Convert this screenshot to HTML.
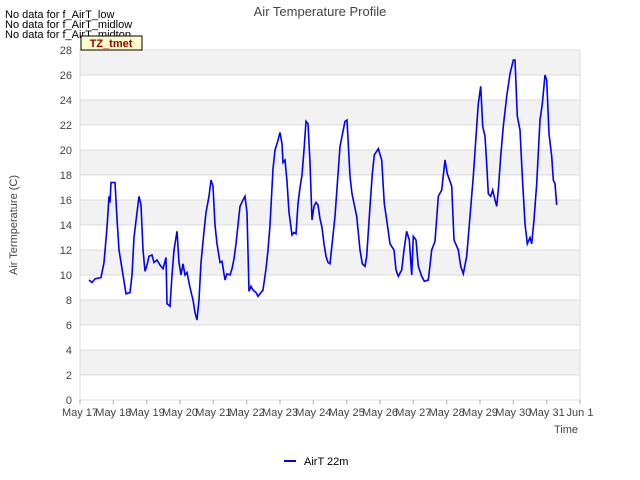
<!DOCTYPE html>
<html><head><meta charset="utf-8"><style>
body{margin:0;background:#fff;font-family:"Liberation Sans",sans-serif}
svg{display:block}
</style></head><body>
<svg width="640" height="480" viewBox="0 0 640 480" xmlns="http://www.w3.org/2000/svg" font-family="Liberation Sans, sans-serif">
<g id="bands"></g>
<g id="grid"></g>
<rect x="80" y="50" width="500" height="350" fill="none" stroke="#ddd"/>
<g id="yticks"></g>
<g id="xticks"></g>
<path id="line" fill="none" stroke="#0000ff" stroke-width="1.6"/>
<text x="320" y="16" text-anchor="middle" font-size="13" fill="#444">Air Temperature Profile</text>
<text transform="translate(17,225) rotate(-90)" text-anchor="middle" font-size="11" fill="#444">Air Termperature (C)</text>
<text x="578" y="433" text-anchor="end" font-size="11" fill="#444">Time</text>
<text x="5" y="18" font-size="11" fill="#000">No data for f_AirT_low</text>
<text x="5" y="28" font-size="11" fill="#000">No data for f_AirT_midlow</text>
<text x="5" y="38" font-size="11" fill="#000">No data for f_AirT_midtop</text>
<rect x="81" y="36" width="61" height="14" fill="#ffffcc" stroke="#000"/>
<text x="111" y="47" text-anchor="middle" font-size="11" font-weight="bold" fill="#990000">TZ_tmet</text>
<line x1="284" y1="461" x2="296" y2="461" stroke="#0000ff" stroke-width="2"/>
<text x="304" y="465" font-size="11" fill="#000">AirT 22m</text>
</svg>
<script>
const dayOffsets=[0.27,0.36,0.45,0.63,0.72,0.81,0.87,0.90,0.93,1.05,1.11,1.17,1.23,1.32,1.38,1.50,1.56,1.62,1.71,1.77,1.83,1.89,1.95,2.01,2.07,2.16,2.22,2.31,2.40,2.49,2.58,2.61,2.70,2.76,2.82,2.91,2.97,3.03,3.09,3.15,3.21,3.30,3.39,3.45,3.51,3.57,3.63,3.72,3.78,3.87,3.93,3.99,4.05,4.11,4.20,4.26,4.35,4.41,4.50,4.56,4.62,4.68,4.74,4.80,4.89,4.95,5.01,5.07,5.13,5.19,5.28,5.34,5.43,5.49,5.58,5.64,5.70,5.79,5.85,5.91,6.00,6.06,6.09,6.15,6.21,6.27,6.36,6.42,6.48,6.54,6.60,6.66,6.72,6.78,6.84,6.90,6.96,7.02,7.08,7.14,7.20,7.26,7.32,7.38,7.44,7.50,7.65,7.80,7.95,8.01,8.10,8.16,8.30,8.40,8.47,8.55,8.60,8.70,8.77,8.83,8.95,9.05,9.13,9.20,9.30,9.42,9.48,9.55,9.65,9.72,9.80,9.88,9.95,10.00,10.08,10.15,10.25,10.33,10.45,10.55,10.65,10.75,10.85,10.95,11.02,11.15,11.22,11.35,11.42,11.50,11.60,11.70,11.80,11.90,11.95,12.02,12.08,12.15,12.20,12.25,12.32,12.38,12.45,12.50,12.55,12.62,12.70,12.80,12.90,13.00,13.05,13.12,13.20,13.27,13.35,13.42,13.50,13.55,13.62,13.70,13.80,13.87,13.95,14.00,14.07,14.15,14.20,14.25,14.30];
const airT=[9.6,9.4,9.7,9.8,11,13.8,16.3,15.8,17.4,17.4,14.5,12,11,9.5,8.5,8.6,10,13,15,16.3,15.6,12,10.3,10.8,11.5,11.6,11,11.2,10.8,10.5,11.4,7.7,7.5,10,12,13.5,11,10,10.9,10,10.2,9,8,7,6.4,8,11,13.5,15,16.3,17.6,17.1,14,12.5,11,11.1,9.6,10.1,10,10.5,11.3,12.5,14,15.5,16,16.3,15,8.7,9.1,8.8,8.6,8.3,8.6,8.8,10.5,12,14,18.5,20,20.5,21.4,20.5,19,19.2,17.5,15,13.2,13.4,13.3,15.7,17,18,20,22.3,22.1,19,14.4,15.5,15.8,15.6,14.5,13.8,12.5,11.5,11,10.9,14.7,20.3,22.3,22.4,17.9,16.5,14.7,12,10.9,10.7,11.5,15.5,18.1,19.6,20.1,19.2,15.7,14.4,12.5,12,10.4,9.9,10.4,12,13.5,12.8,10,13.1,12.8,10.7,9.9,9.5,9.6,12,12.7,16.3,16.8,19.2,18.1,17.1,12.8,12,10.7,10.1,11.5,14.7,17.9,21.9,23.7,25.1,21.9,21.1,18.9,16.5,16.3,16.8,16,15.5,16.8,19.5,21.9,24.3,26.1,27.2,27.2,22.7,21.6,17.9,14.1,12.5,13,12.5,14.4,17.3,22.4,23.7,26,25.6,21.3,19.5,17.6,17.3,15.6];
const yTicks=[0,2,4,6,8,10,12,14,16,18,20,22,24,26,28];
const xTickLabels=["May 17","May 18","May 19","May 20","May 21","May 22","May 23","May 24","May 25","May 26","May 27","May 28","May 29","May 30","May 31","Jun 1"];
const NS="http://www.w3.org/2000/svg";
const X0=80,X1=580,Y0=400,Y1=50,DAYS=15,YMAX=28;
function sx(d){return X0+d*(X1-X0)/DAYS;}
function sy(v){return Y0-v*(Y0-Y1)/YMAX;}
const bands=document.getElementById('bands'),grid=document.getElementById('grid'),yt=document.getElementById('yticks'),xt=document.getElementById('xticks');
for(let i=0;i<yTicks.length;i++){
  const v=yTicks[i];
  if(i<yTicks.length-1 && i%2===1){
    const r=document.createElementNS(NS,'rect');
    r.setAttribute('x',X0);r.setAttribute('y',sy(yTicks[i+1]));r.setAttribute('width',X1-X0);r.setAttribute('height',sy(v)-sy(yTicks[i+1]));r.setAttribute('fill','#f2f2f2');
    
    
    bands.appendChild(r);
  }
  const l=document.createElementNS(NS,'line');
  l.setAttribute('x1',X0);l.setAttribute('x2',X1);l.setAttribute('y1',sy(v));l.setAttribute('y2',sy(v));l.setAttribute('stroke','#dcdcdc');
  
  
  grid.appendChild(l);
  const t=document.createElementNS(NS,'text');
  t.setAttribute('x',72);t.setAttribute('y',sy(v)+4);t.setAttribute('text-anchor','end');t.setAttribute('font-size','11');t.setAttribute('fill','#444');
  t.textContent=v;
  
  
  yt.appendChild(t);
}
for(let i=0;i<xTickLabels.length;i++){
  const x=sx(i);
  const l=document.createElementNS(NS,'line');
  l.setAttribute('x1',x);l.setAttribute('x2',x);l.setAttribute('y1',Y0);l.setAttribute('y2',Y0+4);l.setAttribute('stroke','#aaa');
  
  
  xt.appendChild(l);
  const t=document.createElementNS(NS,'text');
  t.setAttribute('x',x);t.setAttribute('y',Y0+16);t.setAttribute('text-anchor','middle');t.setAttribute('font-size','11');t.setAttribute('fill','#444');
  t.textContent=xTickLabels[i];
  
  
  xt.appendChild(t);
}
let d='';
for(let i=0;i<airT.length;i++){d+=(i?'L':'M')+sx(dayOffsets[i]).toFixed(1)+','+sy(airT[i]).toFixed(1);}
document.getElementById('line').setAttribute('d',d);
</script>
</body></html>
